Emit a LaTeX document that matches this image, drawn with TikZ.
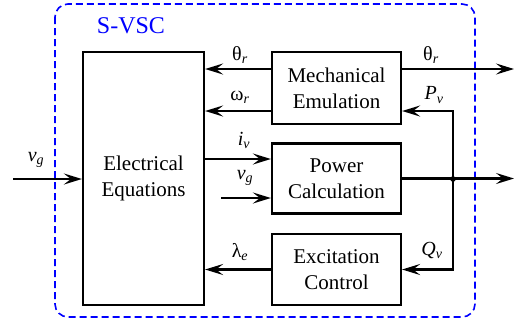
\documentclass[tikz,border=0pt]{standalone}
\usepackage{fontspec}
\setmainfont{Liberation Serif}
\usetikzlibrary{arrows.meta}
\begin{document}
\begin{tikzpicture}[x=1pt,y=-1pt,
  blk/.style={draw,line width=2.2pt,inner sep=0pt,align=center,font=\rmfamily\fontsize{21}{26}\selectfont},
  sig/.style={line width=2.2pt,-{Stealth[length=18pt,width=11pt,inset=7pt]}},
  lbl/.style={inner sep=0pt,font=\rmfamily\fontsize{20}{24}\selectfont},
  frame/.style={draw=blue,line width=1.6pt,dash pattern=on 7pt off 4pt,rounded corners=13pt}]
\useasboundingbox (0,0) rectangle (518,322);
\draw[frame] (55,4) rectangle (475,317);
\node[lbl,text=blue,font=\rmfamily\fontsize{24}{28}\selectfont] (title) at (131,26) {S-VSC};
\node[blk,minimum width=121pt,minimum height=253pt] (ee) at (143.5,178.5) {Electrical\\Equations};
\node[blk,minimum width=129pt,minimum height=72pt] (mech) at (336.5,88) {Mechanical\\Emulation};
\node[blk,minimum width=129pt,minimum height=70pt] (pow) at (336.5,178.5) {Power\\Calculation};
\node[blk,minimum width=129pt,minimum height=71pt] (exc) at (336.5,269.5) {Excitation\\Control};
\coordinate (m1) at (272,69);
\coordinate (m2) at (272,111);
\coordinate (p1) at (204,159);
\coordinate (p2) at (221,198);
\coordinate (in) at (13,179);
\coordinate (out) at (514,0);
\coordinate (j) at (453,179);
% arrows into electrical equations
\draw[sig] (m1 -| mech.west) -- (m1 -| ee.east);
\draw[sig] (m2 -| mech.west) -- (m2 -| ee.east);
\draw[sig] (exc.west) -- (exc.west -| ee.east);
% arrows into power
\draw[sig] (p1 -| ee.east) -- (p1 -| pow.west);
\draw[sig] (p2) -- (p2 -| pow.west);
% input
\draw[sig] (in) -- (in -| ee.west);
% outputs
\draw[sig] (m1 -| mech.east) -- (m1 -| out);
\draw[sig] (pow.east) -- (pow.east -| out);
\draw[sig] (j) |- (m2 -| mech.east);
\draw[sig] (j) |- (exc.east);
\fill (j) circle (2.8pt);
% labels
\node[lbl] (lt1) at (240,55) {θ\textsubscript{\itshape r}};
\node[lbl] (lw) at (240,97) {ω\textsubscript{\itshape r}};
\node[lbl] (li) at (244,140) {\itshape i\textsubscript{v}};
\node[lbl] (lvg) at (245,178) {\itshape v\textsubscript{g}};
\node[lbl] (ll) at (240,252) {λ\textsubscript{\itshape e}};
\node[lbl] (lt2) at (431,55) {θ\textsubscript{\itshape r}};
\node[lbl] (lp) at (434,95) {\itshape P\textsubscript{v}};
\node[lbl] (lq) at (432,250) {\itshape Q\textsubscript{v}};
\node[lbl] (lvin) at (36,160) {\itshape v\textsubscript{g}};
\end{tikzpicture}
\end{document}
